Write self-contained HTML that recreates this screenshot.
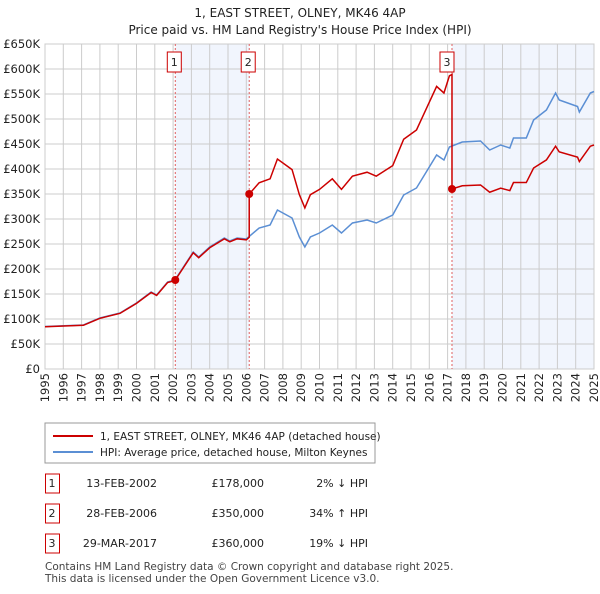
<!DOCTYPE html>
<html><head><meta charset="utf-8"><style>
body{margin:0;background:#fff;font-family:"DejaVu Sans",sans-serif;}
svg text{font-family:"DejaVu Sans","Liberation Sans",sans-serif;}
</style></head><body>
<svg id="c" width="600" height="590" viewBox="0 0 600 590">
<text x="300" y="17" text-anchor="middle" font-size="12" fill="#222">1, EAST STREET, OLNEY, MK46 4AP</text>
<text x="300" y="34" text-anchor="middle" font-size="12" fill="#222">Price paid vs. HM Land Registry's House Price Index (HPI)</text>
<g id="plot"></g>
<g>
<rect x="45" y="423" width="330" height="40" fill="#fff" stroke="#999"/>
<line x1="53" y1="436" x2="93" y2="436" stroke="#cc0000" stroke-width="2"/>
<text x="100" y="440" font-size="10.5" fill="#222">1, EAST STREET, OLNEY, MK46 4AP (detached house)</text>
<line x1="53" y1="452" x2="93" y2="452" stroke="#5b8fd4" stroke-width="2"/>
<text x="100" y="456" font-size="10.5" fill="#222">HPI: Average price, detached house, Milton Keynes</text>
</g>
<g id="table" font-size="11" fill="#222"></g>
<text x="45" y="570" font-size="10.5" fill="#444">Contains HM Land Registry data © Crown copyright and database right 2025.</text>
<text x="45" y="582" font-size="10.5" fill="#444">This data is licensed under the Open Government Licence v3.0.</text>
</svg>
<script>
const hpiYears=[1995,1997.1,1998,1999.1,2000,2000.8,2001.1,2001.7,2002.1,2003.1,2003.4,2004,2004.8,2005.1,2005.5,2006,2006.7,2007.3,2007.7,2008.2,2008.5,2008.9,2009.2,2009.5,2010,2010.7,2011.2,2011.8,2012.6,2013.1,2014,2014.6,2015.3,2015.9,2016.4,2016.8,2017.1,2017.8,2018.8,2019.3,2019.9,2020.4,2020.6,2021.3,2021.7,2022.4,2022.9,2023.1,2024.1,2024.2,2024.8,2025];
const hpiValues=[85,88,102,112,132,154,148,174,178,234,224,244,262,256,262,260,282,288,318,308,302,264,244,264,272,288,272,292,298,292,308,348,362,398,428,418,444,454,456,438,448,442,462,462,498,518,552,538,525,514,552,555];
const saleYears=[2002.12,2006.16,2017.24];
const salePrices=[178,350,360];
const saleLabels=["1","2","3"];
const saleDates=["13-FEB-2002","28-FEB-2006","29-MAR-2017"];
const salePriceText=["£178,000","£350,000","£360,000"];
const saleHpiText=["2% ↓ HPI","34% ↑ HPI","19% ↓ HPI"];
const yTicks=[0,50,100,150,200,250,300,350,400,450,500,550,600,650];
const xTicks=[1995,1996,1997,1998,1999,2000,2001,2002,2003,2004,2005,2006,2007,2008,2009,2010,2011,2012,2013,2014,2015,2016,2017,2018,2019,2020,2021,2022,2023,2024,2025];

const L=45,R=594,T=44,B=369;
const X=y=>L+(y-1995)/30*(R-L);
const Y=v=>B-v/650*(B-T);
const NS="http://www.w3.org/2000/svg";
const plot=document.getElementById('plot');
function mk(tag,attrs,parent){const e=document.createElementNS(NS,tag);for(const k in attrs)e.setAttribute(k,attrs[k]);(parent||plot).appendChild(e);return e;}
function hpiAt(t){for(let i=0;i<hpiYears.length-1;i++){if(t<=hpiYears[i+1]){const f=(t-hpiYears[i])/(hpiYears[i+1]-hpiYears[i]);return hpiValues[i]+f*(hpiValues[i+1]-hpiValues[i]);}}return hpiValues[hpiValues.length-1];}

let s1=mk('rect',{x:X(saleYears[0]),y:T,width:X(saleYears[1])-X(saleYears[0]),height:B-T,fill:'#eef3fc',opacity:0.8});


let s2=mk('rect',{x:X(saleYears[2]),y:T,width:R-X(saleYears[2]),height:B-T,fill:'#eef3fc',opacity:0.8});


yTicks.forEach(v=>{
 let g=mk('line',{x1:L,x2:R,y1:Y(v),y2:Y(v),stroke:'#ccc','stroke-width':1});
 
 
 let t=mk('text',{x:40,y:Y(v)+4,'text-anchor':'end','font-size':11.5,fill:'#222'});
 
 
 t.textContent=v===0?'£0':'£'+v+'K';
});
xTicks.forEach(y=>{
 let g=mk('line',{x1:X(y),x2:X(y),y1:T,y2:B,stroke:'#ccc','stroke-width':1});
 
 
 let t=mk('text',{x:0,y:0,'text-anchor':'end','font-size':11.5,fill:'#222',transform:'translate('+(X(y)+4)+',373) rotate(-90)'});
 
 
 t.textContent=y;
});
let fr=mk('rect',{x:L,y:T,width:R-L,height:B-T,fill:'none',stroke:'#ccc'});


saleYears.forEach((s,i)=>{
 let d=mk('line',{x1:X(s),x2:X(s),y1:T,y2:B,stroke:'#e06060','stroke-dasharray':'2,2','stroke-width':1});
 
 
 let b=mk('rect',{x:X(s)-(i==2?12:8),y:52,width:14,height:20,fill:'#fff',stroke:'#cc0000'});
 
 
 let t=mk('text',{x:X(s)-(i==2?5:1),y:66,'text-anchor':'middle','font-size':11,fill:'#222'});
 
 
 t.textContent=saleLabels[i];
});
let pts=hpiYears.map((y,i)=>X(y)+','+Y(hpiValues[i]));
let hl=mk('polyline',{points:pts.join(' '),fill:'none',stroke:'#5b8fd4','stroke-width':1.5});


let rp=[];
function ratioAt(t){let k=0;for(let i=0;i<saleYears.length;i++)if(t>=saleYears[i])k=i;return salePrices[k]/hpiAt(saleYears[k]);}
let times=hpiYears.concat(saleYears).sort((a,b)=>a-b);
times.forEach(t=>{
 const si=saleYears.indexOf(t);
 if(si>0){const pr=salePrices[si-1]/hpiAt(saleYears[si-1]);rp.push(X(t)+','+Y(hpiAt(t)*pr));}
 rp.push(X(t)+','+Y(hpiAt(t)*ratioAt(t)));
});
let pl=mk('polyline',{points:rp.join(' '),fill:'none',stroke:'#cc0000','stroke-width':1.5});


saleYears.forEach((s,i)=>{
 let c=mk('circle',{cx:X(s),cy:Y(salePrices[i]),r:4,fill:'#cc0000'});
 
 
});
const tb=document.getElementById('table');
saleYears.forEach((s,i)=>{
 const y=483+i*30;
 let b=mk('rect',{x:45.5,y:y-9,width:14,height:19,fill:'#fff',stroke:'#cc0000'},tb);
 
 
 const cells=[[52,saleLabels[i],'middle'],[157,saleDates[i],'end'],[264,salePriceText[i],'end'],[368,saleHpiText[i],'end']];
 cells.forEach(c=>{
  let t=mk('text',{x:c[0],y:y+4,'text-anchor':c[2],'font-size':11,fill:'#222'},tb);
  
  
  t.textContent=c[1];
 });
});
</script>
</body></html>
